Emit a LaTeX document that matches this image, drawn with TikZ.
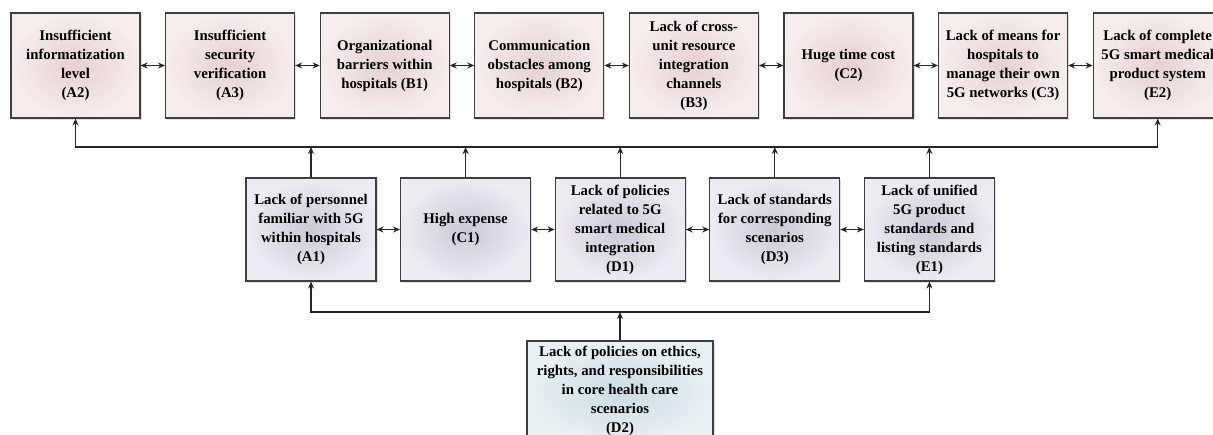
\documentclass[tikz,border=0pt]{standalone}
\usepackage{fontspec}
\setmainfont{Liberation Serif}
\usepackage{xcolor}
\usepackage{tikz}
\usetikzlibrary{positioning, arrows.meta, shadows}

\definecolor{pinkin}{RGB}{231,208,210}
\definecolor{pinkout}{RGB}{246,237,237}
\definecolor{greyin}{RGB}{204,200,215}
\definecolor{greyout}{RGB}{237,235,242}
\definecolor{bluein}{RGB}{203,220,228}
\definecolor{blueout}{RGB}{232,240,243}
\definecolor{edgegrey}{RGB}{62,62,62}

\begin{document}
\begin{tikzpicture}[
				x=1pt, y=1pt,
				node distance=154.6pt,
				box/.style={rectangle, draw=edgegrey, line width=1.1pt, minimum width=129pt, minimum height=105pt, inner sep=1pt, align=center, font=\fontsize{14.8}{19}\selectfont\bfseries, drop shadow={opacity=0.25, shadow xshift=1.5pt, shadow yshift=-1.5pt}},
				topbox/.style={box, inner color=pinkin, outer color=pinkout},
				midbox/.style={box, minimum width=130pt, minimum height=103pt, inner color=greyin, outer color=greyout},
				lowbox/.style={box, minimum width=186pt, minimum height=100pt, inner color=bluein, outer color=blueout},
				arrow/.style={-{Stealth[length=7pt, width=6pt]}, line width=1.1pt, draw=black!85},
				biarrow/.style={{Stealth[length=7pt, width=6pt]}-{Stealth[length=7pt, width=6pt]}, line width=1.1pt, draw=black!85}
				]
				\useasboundingbox (0,0) rectangle (1213,-434);
				
				% Nodes
				\node (A2) [topbox] at (75.5,-65.5) {Insufficient\\informatization\\level\\(A2)};
				\node (A3) [topbox, right of=A2] {Insufficient\\security\\verification\\(A3)};
				\node (B1) [topbox, right of=A3] {Organizational\\barriers within\\hospitals (B1)};
				\node (B2) [topbox, right of=B1] {Communication\\obstacles among\\hospitals (B2)};
				\node (B3) [topbox, right of=B2] {Lack of cross-\\unit resource\\integration\\channels\\(B3)};
				\node (C2) [topbox, right of=B3] {Huge time cost\\(C2)};
				\node (C3) [topbox, right of=C2] {Lack of means for\\hospitals to\\manage their own\\5G networks (C3)};
				\node (E2) [topbox, right of=C3] {Lack of complete\\5G smart medical\\product system\\(E2)};
				
				\node (A1) [midbox] at (311,-229.5) {Lack of personnel\\familiar with 5G\\within hospitals\\(A1)};
				\node (C1) [midbox, right of=A1] {High expense\\(C1)};
				\node (D1) [midbox, right of=C1] {Lack of policies\\related to 5G\\smart medical\\integration\\(D1)};
				\node (D3) [midbox, right of=D1] {Lack of standards\\for corresponding\\scenarios\\(D3)};
				\node (E1) [midbox, right of=D3] {Lack of unified\\5G product\\standards and\\listing standards\\(E1)};
				
				\node (D2) [lowbox] at (620,-391) {Lack of policies on ethics,\\rights, and responsibilities\\in core health care\\scenarios\\(D2)};
				
				\coordinate (topbus) at (0,-147);
				\coordinate (lowbus) at (0,-312);
				
				% Arrows
				\draw [biarrow] (A2) -- (A3);
				\draw [biarrow] (A3) -- (B1);
				\draw [biarrow] (B1) -- (B2);
				\draw [biarrow] (B2) -- (B3);
				\draw [biarrow] (B3) -- (C2);
				\draw [biarrow] (C2) -- (C3);
				\draw [biarrow] (C3) -- (E2);
				
				\draw [biarrow] (A1) -- (C1);
				\draw [biarrow] (C1) -- (D1);
				\draw [biarrow] (D1) -- (D3);
				\draw [biarrow] (D3) -- (E1);
				
				\draw [biarrow] (A2.south) |- (E2.south |- topbus) -- (E2.south);
				\draw [arrow] (A1.north) -- (A1.north |- topbus);
				\draw [arrow] (C1.north) -- (C1.north |- topbus);
				\draw [arrow] (D1.north) -- (D1.north |- topbus);
				\draw [arrow] (D3.north) -- (D3.north |- topbus);
				\draw [arrow] (E1.north) -- (E1.north |- topbus);
				
				\draw [biarrow] (A1.south) |- (E1.south |- lowbus) -- (E1.south);
				\draw [arrow] (D2.north) -- (D2.north |- lowbus);
			\end{tikzpicture}
\end{document}
